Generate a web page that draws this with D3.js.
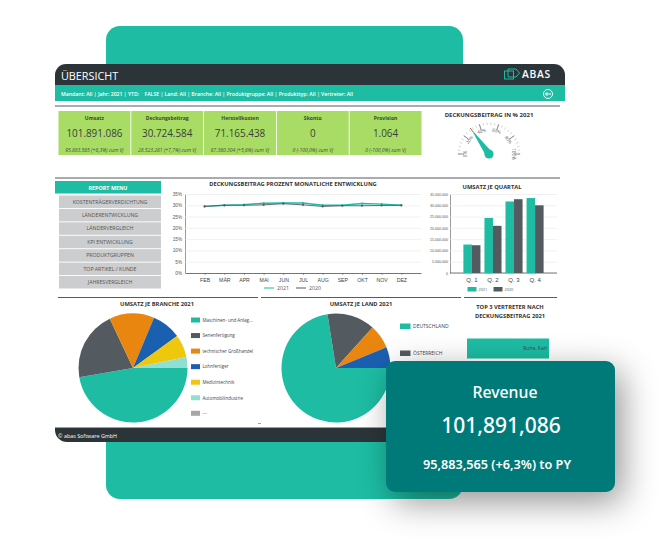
<!DOCTYPE html>
<html>
<head>
<meta charset="utf-8">
<title>Übersicht</title>
<script src="https://cdn.jsdelivr.net/npm/d3@7/dist/d3.min.js"></script>
<style>
  html, body { margin: 0; padding: 0; background: #fff; }
  svg { display: block; font-family: "Open Sans", sans-serif; }
</style>
</head>
<body>
<svg id="chart" width="659" height="545"></svg>
<script>
// KPI-Kacheln
const kpiTitles = ['Umsatz', 'Deckungsbeitrag', 'Herstellkosten', 'Skonto', 'Provision']
const kpiValues = ['101.891.086', '30.724.584', '71.165.438', '0', '1.064']
const kpiNotes = [
  '95.883.565 (+6,3%) zum Vj',
  '28.523.261 (+7,7%) zum Vj',
  '67.360.304 (+5,6%) zum Vj',
  '0 (-100,0%) zum Vj',
  '0 (-100,0%) zum Vj'
]

const menuItems = ['KOSTENTRÄGERVERDICHTUNG', 'LÄNDERENTWICKLUNG', 'LÄNDERVERGLEICH', 'KPI ENTWICKLUNG', 'PRODUKTGRUPPEN', 'TOP ARTIKEL / KUNDE', 'JAHRESVERGLEICH']

// Deckungsbeitrag in Prozent je Monat
const months = ['FEB', 'MÄR', 'APR', 'MAI', 'JUN', 'JUL', 'AUG', 'SEP', 'OKT', 'NOV', 'DEZ']
const margin2021 = [29.5, 30, 30.3, 30.9, 31, 31, 30, 30, 30.8, 30.5, 30]
const margin2020 = [29.5, 30, 30, 30.2, 30.7, 30.2, 29.5, 29.8, 29.8, 29.9, 30]
const marginTicks = [0, 5, 10, 15, 20, 25, 30, 35]

// Umsatz je Quartal
const quarters = ['Q. 1', 'Q. 2', 'Q. 3', 'Q. 4']
const quarter2021 = [12600000, 24400000, 31700000, 33200000]
const quarter2020 = [12300000, 20900000, 32700000, 30000000]
const quarterTicks = [0, 5000000, 10000000, 15000000, 20000000, 25000000, 30000000, 35000000]

const branchLabels = ['Maschinen- und Anlag...', 'Serienfertigung', 'technischer Großhandel', 'Lohnfertiger', 'Medizintechnik', 'Automobilindustrie', '---']
const branchValues = [47.3, 20.7, 13.3, 8.7, 6.8, 3.2, 0]
const branchColors = ['#1dbca3', '#545b60', '#e8860f', '#1a5fb0', '#eec80c', '#8fe0d2', '#a6a6a6']

const landLabels = ['DEUTSCHLAND', 'ÖSTERREICH']
const landValues = [72.5, 14.2, 7.1, 6.2]
const landColors = ['#1dbca3', '#545b60', '#e8860f', '#1a5fb0']

const repNames = ['Ruhe, Karl']
const repValues = [100]

const gaugeValue = 30.15
const gaugeTicks = [0, 20, 40, 60, 80, 100]

const teal = '#1dbca3'
const dark = '#2b3539'
const grey = '#545b60'

const svg = d3.select('#chart')

const defs = svg.append('defs')
const shadow = defs.append('filter').attr('id', 'card-shadow')
  .attr('x', '-40%').attr('y', '-50%').attr('width', '190%').attr('height', '220%')
shadow.append('feDropShadow')
  .attr('dx', 7).attr('dy', 10).attr('stdDeviation', 17)
  .attr('flood-color', '#000').attr('flood-opacity', 0.42)

const fmtDe = d3.formatLocale({ decimal: ',', thousands: '.', grouping: [3], currency: ['', '€'] }).format(',')

function hline(x1, x2, y) {
  svg.append('line')
    .attr('x1', x1).attr('x2', x2).attr('y1', y).attr('y2', y)
    .attr('stroke', '#555b5e').attr('stroke-width', 1)
}

function title(text, x, y, size = 5.75) {
  return svg.append('text')
    .attr('x', x).attr('y', y)
    .attr('text-anchor', 'middle')
    .attr('font-size', size)
    .attr('font-weight', 700)
    .attr('fill', '#333')
    .text(text)
}

// Hintergrundfläche
svg.append('rect')
  .attr('x', 106).attr('y', 26).attr('width', 357).attr('height', 473)
  .attr('rx', 14).attr('fill', teal)

// Dashboard-Rahmen
svg.append('path')
  .attr('d', 'M55,428V75a11,11 0 0 1 11,-11H554a11,11 0 0 1 11,11V428Z')
  .attr('fill', '#fff')
svg.append('path')
  .attr('d', 'M55,85V75a11,11 0 0 1 11,-11H554a11,11 0 0 1 11,11V85Z')
  .attr('fill', dark)
svg.append('rect')
  .attr('x', 55).attr('y', 85).attr('width', 510).attr('height', 16)
  .attr('fill', teal)
svg.append('path')
  .attr('d', 'M55,428H565V442H67a12,12 0 0 1 -12,-12Z')
  .attr('fill', dark)
svg.append('rect').attr('x', 55).attr('y', 427).attr('width', 510).attr('height', 1).attr('fill', '#9a9fa1')

svg.append('text')
  .attr('x', 61).attr('y', 80)
  .attr('font-size', 10.8).attr('fill', '#fff')
  .text('ÜBERSICHT')
svg.append('text')
  .attr('x', 61).attr('y', 95.5)
  .attr('font-size', 5.15).attr('font-weight', 600).attr('fill', '#fff')
  .attr('xml:space', 'preserve')
  .text('Mandant: All | Jahr: 2021 | YTD:    FALSE | Land: All | Branche: All | Produktgruppe: All | Produkttyp: All | Vertreter: All')
svg.append('text')
  .attr('x', 522).attr('y', 77.5)
  .attr('font-size', 10.3).attr('font-weight', 600).attr('letter-spacing', 0.7).attr('fill', '#fff')
  .text('ABAS')

// Logo
const logo = svg.append('g').attr('fill', 'none').attr('stroke', teal).attr('stroke-width', 1)
logo.append('rect').attr('x', 504.5).attr('y', 71).attr('width', 9).attr('height', 8)
logo.append('path').attr('d', 'M508,69H516L519.5,73L516,77H508Z')

// Zurück-Symbol
const back = svg.append('g').attr('transform', 'translate(548,94)')
back.append('circle').attr('r', 4.5).attr('fill', 'none').attr('stroke', '#fff').attr('stroke-width', 1)
back.append('path').attr('d', 'M3,0H-2.5M-0.5,-2L-2.5,0L-0.5,2')
  .attr('fill', 'none').attr('stroke', '#fff').attr('stroke-width', 1)

hline(55, 560, 106)
hline(55, 560, 178)

// KPI-Kacheln
const kpiX = d3.scaleBand().domain(kpiTitles).range([58.5, 421.5]).paddingInner(0.012)
const kpi = svg.append('g').selectAll('g')
  .data(kpiTitles)
  .join('g')
  .attr('transform', d => `translate(${kpiX(d)},111)`)
kpi.append('rect')
  .attr('width', kpiX.bandwidth()).attr('height', 44)
  .attr('fill', '#a8dc65')
kpi.append('text')
  .attr('x', kpiX.bandwidth() / 2).attr('y', 8.6)
  .attr('text-anchor', 'middle')
  .attr('font-size', 5.1).attr('font-weight', 700).attr('fill', '#3c4a30')
  .text(d => d)
kpi.append('text')
  .attr('x', kpiX.bandwidth() / 2).attr('y', 25.8)
  .attr('text-anchor', 'middle')
  .attr('font-size', 9.9).attr('fill', '#3a3f3a')
  .text((d, i) => kpiValues[i])
kpi.append('text')
  .attr('x', kpiX.bandwidth() / 2).attr('y', 41.2)
  .attr('text-anchor', 'middle')
  .attr('font-size', 5).attr('font-style', 'italic').attr('fill', '#44503a')
  .text((d, i) => kpiNotes[i])

// Tacho
title('DECKUNGSBEITRAG IN % 2021', 489, 116.5, 6)
const gauge = svg.append('g').attr('transform', 'translate(489,154)')
const gaugeAngle = d3.scaleLinear().domain([0, 100]).range([-180, 0])
gauge.selectAll('.minor')
  .data(d3.range(0, 100.1, 4))
  .join('line')
  .attr('class', 'minor')
  .attr('transform', d => `rotate(${gaugeAngle(d)})`)
  .attr('x1', 29).attr('x2', 31.5)
  .attr('stroke', '#c4c7c8').attr('stroke-width', 0.7)
const gaugeTick = gauge.selectAll('.major')
  .data(gaugeTicks)
  .join('g')
  .attr('class', 'major')
  .attr('transform', d => `rotate(${gaugeAngle(d)})`)
gaugeTick.append('line')
  .attr('x1', 25).attr('x2', 31)
  .attr('stroke', '#777').attr('stroke-width', 0.8)
gaugeTick.append('text')
  .attr('transform', 'translate(24,0) rotate(90)')
  .attr('text-anchor', 'middle')
  .attr('dy', 1.5)
  .attr('font-size', 4.5)
  .attr('fill', '#666')
  .text(d => d + '%')
const needle = gauge.append('g').attr('transform', `rotate(${gaugeAngle(gaugeValue)})`)
needle.append('path').attr('d', 'M0,-3.6L27,-0.4V0.4L0,3.6Z').attr('fill', teal)
needle.append('line').attr('x1', 27).attr('x2', 32).attr('stroke', '#a5583c').attr('stroke-width', 0.8)
gauge.append('circle').attr('r', 4.6).attr('fill', teal)

// Report-Menü
svg.append('rect')
  .attr('x', 55).attr('y', 181).attr('width', 106).attr('height', 12.5)
  .attr('fill', teal)
svg.append('text')
  .attr('x', 108).attr('y', 189.5)
  .attr('text-anchor', 'middle')
  .attr('font-size', 5.4).attr('font-weight', 700).attr('fill', '#fff')
  .text('REPORT MENU')
const menuY = d3.scaleBand().domain(menuItems).range([195.5, 288.5]).paddingInner(0.07)
const menu = svg.append('g').selectAll('g')
  .data(menuItems)
  .join('g')
  .attr('transform', d => `translate(59,${menuY(d)})`)
menu.append('rect')
  .attr('width', 102).attr('height', menuY.bandwidth())
  .attr('fill', '#cbcdce')
menu.append('text')
  .attr('x', 51).attr('y', menuY.bandwidth() / 2 + 1.9)
  .attr('text-anchor', 'middle')
  .attr('font-size', 5.2).attr('fill', '#555')
  .text(d => d)

// Liniendiagramm
title('DECKUNGSBEITRAG PROZENT MONATLICHE ENTWICKLUNG', 293, 186)
const lineX = d3.scalePoint().domain(months).range([185, 421]).padding(1)
const lineY = d3.scaleLinear().domain([0, 35]).range([273, 194])

const lineGrid = svg.append('g').attr('transform', 'translate(185,0)')
  .call(d3.axisLeft(lineY).tickValues(marginTicks).tickSizeInner(-236).tickSizeOuter(0).tickFormat(d => d + '%'))
lineGrid.select('.domain').attr('stroke', '#555').attr('stroke-width', 0.6)
lineGrid.selectAll('.tick line').attr('stroke', '#e8e9e9').attr('stroke-width', 0.7)
lineGrid.selectAll('.tick text').attr('font-size', 4.6).attr('fill', '#555').attr('x', -3)

const lineAxis = svg.append('g').attr('transform', 'translate(0,273)')
  .call(d3.axisBottom(lineX).tickSize(2).tickSizeOuter(0))
lineAxis.select('.domain').attr('stroke', '#555').attr('stroke-width', 0.8)
lineAxis.selectAll('.tick line').attr('stroke', '#555').attr('stroke-width', 0.5)
lineAxis.selectAll('.tick text').attr('font-size', 5.2).attr('fill', '#444').attr('y', 5)

const line = d3.line().x((d, i) => lineX(months[i])).y(d => lineY(d))
const lineSeries = [
  { values: margin2021, color: teal, width: 1.4 },
  { values: margin2020, color: grey, width: 0.9 }
]
lineSeries.forEach(s => {
  svg.append('path')
    .attr('d', line(s.values))
    .attr('fill', 'none').attr('stroke', s.color).attr('stroke-width', s.width)
  svg.append('g').selectAll('circle')
    .data(s.values)
    .join('circle')
    .attr('cx', (d, i) => lineX(months[i]))
    .attr('cy', d => lineY(d))
    .attr('r', 1.1)
    .attr('fill', s.color)
})

const lineLegend = svg.append('g').selectAll('g')
  .data(['2021', '2020'])
  .join('g')
  .attr('transform', (d, i) => `translate(${264 + i * 32},288)`)
lineLegend.append('line')
  .attr('x1', 0).attr('x2', 10)
  .attr('stroke', (d, i) => i ? grey : teal).attr('stroke-width', 1)
lineLegend.append('text')
  .attr('x', 13).attr('y', 2)
  .attr('font-size', 5.2).attr('fill', '#555')
  .text(d => d)

// Umsatz je Quartal
title('UMSATZ JE QUARTAL', 492, 189)
const barX = d3.scaleBand().domain(quarters).range([461.5, 545.5]).paddingInner(0.19).paddingOuter(0.09)
const barX1 = d3.scaleBand().domain(['2021', '2020']).range([0, barX.bandwidth()])
const barY = d3.scaleLinear().domain([0, 35000000]).range([273, 194])

const barGrid = svg.append('g').attr('transform', 'translate(450,0)')
  .call(d3.axisLeft(barY).tickValues(quarterTicks).tickSizeInner(-107).tickSizeOuter(0).tickFormat(fmtDe))
barGrid.select('.domain').attr('stroke', '#555').attr('stroke-width', 0.6)
barGrid.selectAll('.tick line').attr('stroke', '#e8e9e9').attr('stroke-width', 0.7)
barGrid.selectAll('.tick text').attr('font-size', 3.6).attr('fill', '#555').attr('x', -2)

const barAxis = svg.append('g').attr('transform', 'translate(0,273)')
  .call(d3.axisBottom(barX).tickSize(0))
barAxis.select('.domain').attr('d', 'M450,0H557').attr('stroke', '#555').attr('stroke-width', 0.8)
barAxis.selectAll('.tick text').attr('font-size', 6).attr('fill', '#444').attr('y', 4.5)

svg.append('g').selectAll('g')
  .data(quarters)
  .join('g')
  .attr('transform', d => `translate(${barX(d)},0)`)
  .selectAll('rect')
  .data((d, i) => [
    { key: '2021', value: quarter2021[i], color: teal },
    { key: '2020', value: quarter2020[i], color: grey }
  ])
  .join('rect')
  .attr('x', d => barX1(d.key))
  .attr('y', d => barY(d.value))
  .attr('width', barX1.bandwidth())
  .attr('height', d => barY(0) - barY(d.value))
  .attr('fill', d => d.color)

const barLegend = svg.append('g').selectAll('g')
  .data(['2021', '2020'])
  .join('g')
  .attr('transform', (d, i) => `translate(${467.5 + i * 26},289)`)
barLegend.append('rect')
  .attr('y', -2).attr('width', 9).attr('height', 4.5)
  .attr('fill', (d, i) => i ? grey : teal)
barLegend.append('text')
  .attr('x', 11).attr('y', 2)
  .attr('font-size', 3.8).attr('fill', '#555')
  .text(d => d)

hline(58, 258, 297.5)
hline(261, 461, 297.5)
hline(464, 557, 297.5)

// Tortendiagramme: Start bei 3 Uhr, im Uhrzeigersinn
function drawPie(values, colors, cx, cy, r) {
  const pie = d3.pie().sort(null).startAngle(Math.PI / 2).endAngle(Math.PI * 2.5)
  const arc = d3.arc().innerRadius(0).outerRadius(r)
  svg.append('g').attr('transform', `translate(${cx},${cy})`)
    .selectAll('path')
    .data(pie(values))
    .join('path')
    .attr('d', arc)
    .attr('fill', (d, i) => colors[i])
}

title('UMSATZ JE BRANCHE 2021', 157, 306)
drawPie(branchValues, branchColors, 133, 368, 54.5)
const branchLegend = svg.append('g').selectAll('g')
  .data(branchLabels)
  .join('g')
  .attr('transform', (d, i) => `translate(191,${320 + i * 15.55})`)
branchLegend.append('rect')
  .attr('y', -2.5).attr('width', 9).attr('height', 5)
  .attr('fill', (d, i) => branchColors[i])
branchLegend.append('text')
  .attr('x', 11.5).attr('y', 1.8)
  .attr('font-size', 4.5).attr('fill', '#444')
  .text(d => d)

// kleine Markierung unten zwischen den Torten
svg.append('line')
  .attr('x1', 258).attr('x2', 261).attr('y1', 423.5).attr('y2', 423.5)
  .attr('stroke', '#888').attr('stroke-width', 0.8)

title('UMSATZ JE LAND 2021', 361, 306)
drawPie(landValues, landColors, 336, 368, 54.5)
const landLegend = svg.append('g').selectAll('g')
  .data(landLabels)
  .join('g')
  .attr('transform', (d, i) => `translate(400,${326 + i * 27})`)
landLegend.append('rect')
  .attr('y', -2.5).attr('width', 10.5).attr('height', 5.5)
  .attr('fill', (d, i) => landColors[i])
landLegend.append('text')
  .attr('x', 13).attr('y', 2.2)
  .attr('font-size', 5).attr('fill', '#444')
  .text(d => d)

// Top 3 Vertreter
title('TOP 3 VERTRETER NACH', 510, 309)
title('DECKUNGSBEITRAG 2021', 510, 317.5)
const repX = d3.scaleLinear().domain([0, 100]).range([467, 549])
const repRow = svg.append('g').selectAll('g')
  .data(repNames)
  .join('g')
repRow.append('rect')
  .attr('x', repX(0)).attr('y', 338.5)
  .attr('width', (d, i) => repX(repValues[i]) - repX(0)).attr('height', 20)
  .attr('fill', teal)
repRow.append('text')
  .attr('x', (d, i) => repX(repValues[i]) - 2).attr('y', 350)
  .attr('text-anchor', 'end')
  .attr('font-size', 5).attr('fill', '#3c4a46')
  .text(d => d)

svg.append('text')
  .attr('x', 58).attr('y', 437.5)
  .attr('font-size', 5.4).attr('fill', '#fff')
  .text('© abas Software GmbH')

// Revenue-Karte
svg.append('rect')
  .attr('x', 386).attr('y', 361).attr('width', 229).attr('height', 131)
  .attr('rx', 9).attr('fill', '#057a78')
  .attr('filter', 'url(#card-shadow)')
const cardText = svg.append('g')
  .attr('font-family', '"Noto Sans", sans-serif')
  .attr('text-anchor', 'middle')
  .attr('fill', '#fff')
cardText.append('text').attr('x', 505).attr('y', 397.5)
  .attr('font-size', 15.8).attr('font-weight', 500).text('Revenue')
cardText.append('text').attr('x', 501).attr('y', 433)
  .attr('font-size', 21).attr('font-weight', 500).text('101,891,086')
cardText.append('text').attr('x', 497).attr('y', 469)
  .attr('font-size', 12.7).attr('font-weight', 600).text('95,883,565 (+6,3%) to PY')
</script>
</body>
</html>
